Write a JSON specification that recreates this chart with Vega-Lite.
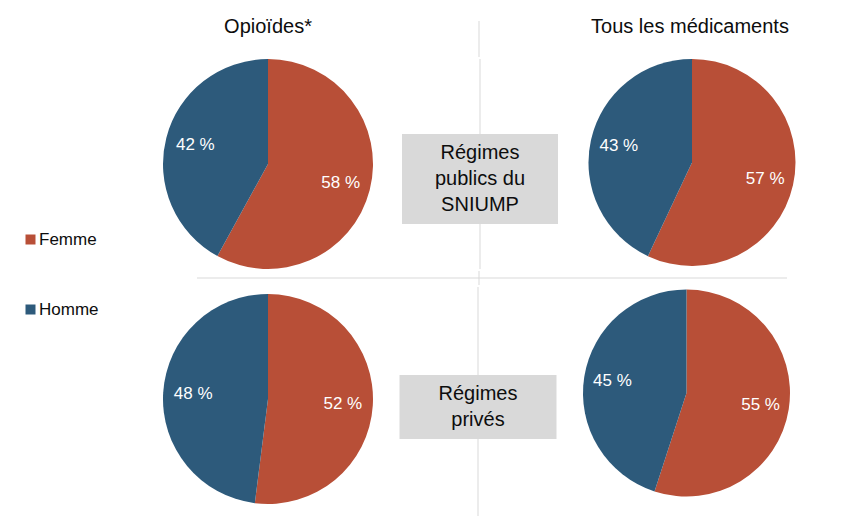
{
  "$schema": "https://vega.github.io/schema/vega-lite/v6.json",
  "padding": {"left": 22, "top": 17, "right": 0, "bottom": 0},
  "background": "white",
  "config": {
    "view": {"stroke": null},
    "font": "Liberation Sans",
    "concat": {"spacing": 0}
  },
  "datasets": {
    "parts": [
      {"medicament": "Opioïdes*", "regime": "Régimes publics du SNIUMP", "sexe": "Femme", "pct": 58, "etiquette": "58 %"},
      {"medicament": "Opioïdes*", "regime": "Régimes publics du SNIUMP", "sexe": "Homme", "pct": 42, "etiquette": "42 %"},
      {"medicament": "Tous les médicaments", "regime": "Régimes publics du SNIUMP", "sexe": "Femme", "pct": 57, "etiquette": "57 %"},
      {"medicament": "Tous les médicaments", "regime": "Régimes publics du SNIUMP", "sexe": "Homme", "pct": 43, "etiquette": "43 %"},
      {"medicament": "Opioïdes*", "regime": "Régimes privés", "sexe": "Femme", "pct": 52, "etiquette": "52 %"},
      {"medicament": "Opioïdes*", "regime": "Régimes privés", "sexe": "Homme", "pct": 48, "etiquette": "48 %"},
      {"medicament": "Tous les médicaments", "regime": "Régimes privés", "sexe": "Femme", "pct": 55, "etiquette": "55 %"},
      {"medicament": "Tous les médicaments", "regime": "Régimes privés", "sexe": "Homme", "pct": 45, "etiquette": "45 %"}
    ],
    "medicaments": [
      {"medicament": "Opioïdes*"},
      {"medicament": "Tous les médicaments"}
    ],
    "regimes": [
      {"regime": "Régimes publics du SNIUMP", "lignes": ["Régimes", "publics du", "SNIUMP"]},
      {"regime": "Régimes privés", "lignes": ["Régimes", "privés"]}
    ]
  },
  "vconcat": [
    {
      "hconcat": [
        {
          "width": 210, "height": 36,
          "data": {"name": "medicaments"},
          "transform": [{"filter": "datum.medicament === 'Opioïdes*'"}],
          "mark": {"type": "text", "fontSize": 20, "color": "#0d0d0d"},
          "encoding": {
            "y": {"field": "medicament", "type": "nominal", "scale": {"type": "band", "paddingInner": 0, "paddingOuter": 1, "align": 0}, "axis": null},
            "text": {"field": "medicament"}
          }
        },
        {
          "width": 212, "height": 36,
          "data": {"values": [{"trait": "vertical"}]},
          "mark": {"type": "rule", "color": "#d9d9d9", "strokeWidth": 1},
          "encoding": {"x": {"field": "trait", "type": "nominal", "scale": {"type": "point"}, "axis": null}}
        },
        {
          "width": 210, "height": 36,
          "data": {"name": "medicaments"},
          "transform": [{"filter": "datum.medicament === 'Tous les médicaments'"}],
          "mark": {"type": "text", "fontSize": 20, "color": "#0d0d0d"},
          "encoding": {
            "y": {"field": "medicament", "type": "nominal", "scale": {"type": "band", "paddingInner": 0, "paddingOuter": 1, "align": 0}, "axis": null},
            "text": {"field": "medicament"}
          }
        }
      ],
      "spacing": 0,
      "bounds": "flush"
    },
    {
      "hconcat": [
        {
          "width": 210, "height": 210,
          "data": {"name": "parts"},
          "transform": [{"filter": "datum.medicament === 'Opioïdes*' && datum.regime === 'Régimes publics du SNIUMP'"}],
          "encoding": {
            "theta": {"field": "pct", "type": "quantitative", "stack": true},
            "order": {"field": "sexe", "sort": "ascending"}
          },
          "layer": [
            {"mark": {"type": "arc"}, "encoding": {"color": {"field": "sexe", "type": "nominal", "scale": {"domain": ["Femme", "Homme"], "range": ["#b84f37", "#2d5a7b"]}, "legend": {"orient": "none", "legendX": -141, "legendY": 210, "title": null, "symbolType": "square", "symbolSize": 100, "symbolStrokeWidth": 0, "labelFontSize": 17, "labelColor": "#0d0d0d", "rowPadding": 52, "labelOffset": 0}}}},
            {"mark": {"type": "text", "radius": 75, "fontSize": 17}, "encoding": {"text": {"field": "etiquette"}, "detail": {"field": "sexe"}, "color": {"value": "white"}}}
          ]
        },
        {
          "width": 214, "height": 210,
          "data": {"name": "regimes"},
          "transform": [{"filter": "datum.regime === 'Régimes publics du SNIUMP'"}],
          "layer": [
            {"mark": {"type": "rule", "color": "#d9d9d9"}, "encoding": {"x": {"datum": "vertical", "type": "nominal", "scale": {"type": "point"}, "axis": null}}},
            {"mark": {"type": "rect", "color": "#d9d9d9"}, "encoding": {
              "x": {"field": "regime", "type": "nominal", "scale": {"type": "band", "paddingInner": 0, "paddingOuter": 0.186}, "axis": null},
              "y": {"field": "regime", "type": "nominal", "scale": {"type": "band", "paddingInner": 0, "paddingOuter": 0.6667, "align": 0.625}, "axis": null}}},
            {"mark": {"type": "text", "fontSize": 20, "lineHeight": 26, "dy": -26, "color": "#0d0d0d"}, "encoding": {
              "x": {"field": "regime", "type": "nominal", "scale": {"type": "band", "paddingInner": 0, "paddingOuter": 0.186}, "axis": null},
              "y": {"field": "regime", "type": "nominal", "scale": {"type": "band", "paddingInner": 0, "paddingOuter": 0.6667, "align": 0.625}, "axis": null},
              "text": {"field": "lignes"}}}
          ],
          "resolve": {"scale": {"x": "independent"}}
        },
        {
          "width": 210, "height": 207,
          "data": {"name": "parts"},
          "transform": [{"filter": "datum.medicament === 'Tous les médicaments' && datum.regime === 'Régimes publics du SNIUMP'"}],
          "encoding": {
            "theta": {"field": "pct", "type": "quantitative", "stack": true},
            "order": {"field": "sexe", "sort": "ascending"}
          },
          "layer": [
            {"mark": {"type": "arc"}, "encoding": {"color": {"field": "sexe", "type": "nominal", "scale": {"domain": ["Femme", "Homme"], "range": ["#b84f37", "#2d5a7b"]}, "legend": {"orient": "none", "legendX": -141, "legendY": 210, "title": null, "symbolType": "square", "symbolSize": 100, "symbolStrokeWidth": 0, "labelFontSize": 17, "labelColor": "#0d0d0d", "rowPadding": 52, "labelOffset": 0}}}},
            {"mark": {"type": "text", "radius": 75, "fontSize": 17}, "encoding": {"text": {"field": "etiquette"}, "detail": {"field": "sexe"}, "color": {"value": "white"}}}
          ]
        }
      ],
      "spacing": 0,
      "bounds": "flush"
    },
    {
      "hconcat": [
        {"width": 34, "height": 14, "data": {"values": []}, "mark": "rule", "encoding": {}},
        {
          "width": 176, "height": 14,
          "data": {"values": [{"trait": "horizontal"}]},
          "mark": {"type": "rule", "color": "#d9d9d9"},
          "encoding": {"y": {"field": "trait", "type": "nominal", "scale": {"type": "point"}, "axis": null}}
        },
        {
          "width": 212, "height": 14,
          "data": {"values": [{"trait": "horizontal"}]},
          "layer": [
            {"mark": {"type": "rule", "color": "#d9d9d9"}, "encoding": {"y": {"field": "trait", "type": "nominal", "scale": {"type": "point"}, "axis": null}}},
            {"mark": {"type": "rule", "color": "#d9d9d9"}, "encoding": {"x": {"field": "trait", "type": "nominal", "scale": {"type": "point"}, "axis": null}}}
          ]
        },
        {
          "width": 202, "height": 14,
          "data": {"values": [{"trait": "horizontal"}]},
          "mark": {"type": "rule", "color": "#d9d9d9"},
          "encoding": {"y": {"field": "trait", "type": "nominal", "scale": {"type": "point"}, "axis": null}}
        }
      ],
      "spacing": 0,
      "bounds": "flush"
    },
    {
      "hconcat": [
        {
          "width": 210, "height": 224,
          "data": {"name": "parts"},
          "transform": [{"filter": "datum.medicament === 'Opioïdes*' && datum.regime === 'Régimes privés'"}],
          "encoding": {
            "theta": {"field": "pct", "type": "quantitative", "stack": true},
            "order": {"field": "sexe", "sort": "ascending"}
          },
          "layer": [
            {"mark": {"type": "arc"}, "encoding": {"color": {"field": "sexe", "type": "nominal", "scale": {"domain": ["Femme", "Homme"], "range": ["#b84f37", "#2d5a7b"]}, "legend": {"orient": "none", "legendX": -141, "legendY": 210, "title": null, "symbolType": "square", "symbolSize": 100, "symbolStrokeWidth": 0, "labelFontSize": 17, "labelColor": "#0d0d0d", "rowPadding": 52, "labelOffset": 0}}}},
            {"mark": {"type": "text", "radius": 75, "fontSize": 17}, "encoding": {"text": {"field": "etiquette"}, "detail": {"field": "sexe"}, "color": {"value": "white"}}}
          ]
        },
        {
          "width": 210, "height": 231,
          "data": {"name": "regimes"},
          "transform": [{"filter": "datum.regime === 'Régimes privés'"}],
          "layer": [
            {"mark": {"type": "rule", "color": "#d9d9d9"}, "encoding": {"x": {"datum": "vertical", "type": "nominal", "scale": {"type": "point"}, "axis": null}}},
            {"mark": {"type": "rect", "color": "#d9d9d9"}, "encoding": {
              "x": {"field": "regime", "type": "nominal", "scale": {"type": "band", "paddingInner": 0, "paddingOuter": 0.1688}, "axis": null},
              "y": {"field": "regime", "type": "nominal", "scale": {"type": "band", "paddingInner": 0.2335, "paddingOuter": 1, "align": 0.527}, "axis": null}}},
            {"mark": {"type": "text", "fontSize": 20, "lineHeight": 26, "dy": -13, "color": "#0d0d0d"}, "encoding": {
              "x": {"field": "regime", "type": "nominal", "scale": {"type": "band", "paddingInner": 0, "paddingOuter": 0.1688}, "axis": null},
              "y": {"field": "regime", "type": "nominal", "scale": {"type": "band", "paddingInner": 0.2335, "paddingOuter": 1, "align": 0.527}, "axis": null},
              "text": {"field": "lignes"}}}
          ],
          "resolve": {"scale": {"x": "independent"}}
        },
        {
          "width": 207, "height": 212,
          "data": {"name": "parts"},
          "transform": [{"filter": "datum.medicament === 'Tous les médicaments' && datum.regime === 'Régimes privés'"}],
          "encoding": {
            "theta": {"field": "pct", "type": "quantitative", "stack": true},
            "order": {"field": "sexe", "sort": "ascending"}
          },
          "layer": [
            {"mark": {"type": "arc"}, "encoding": {"color": {"field": "sexe", "type": "nominal", "scale": {"domain": ["Femme", "Homme"], "range": ["#b84f37", "#2d5a7b"]}, "legend": {"orient": "none", "legendX": -141, "legendY": 210, "title": null, "symbolType": "square", "symbolSize": 100, "symbolStrokeWidth": 0, "labelFontSize": 17, "labelColor": "#0d0d0d", "rowPadding": 52, "labelOffset": 0}}}},
            {"mark": {"type": "text", "radius": 75, "fontSize": 17}, "encoding": {"text": {"field": "etiquette"}, "detail": {"field": "sexe"}, "color": {"value": "white"}}}
          ]
        }
      ],
      "spacing": 0,
      "bounds": "flush"
    }
  ],
  "spacing": 0
}
